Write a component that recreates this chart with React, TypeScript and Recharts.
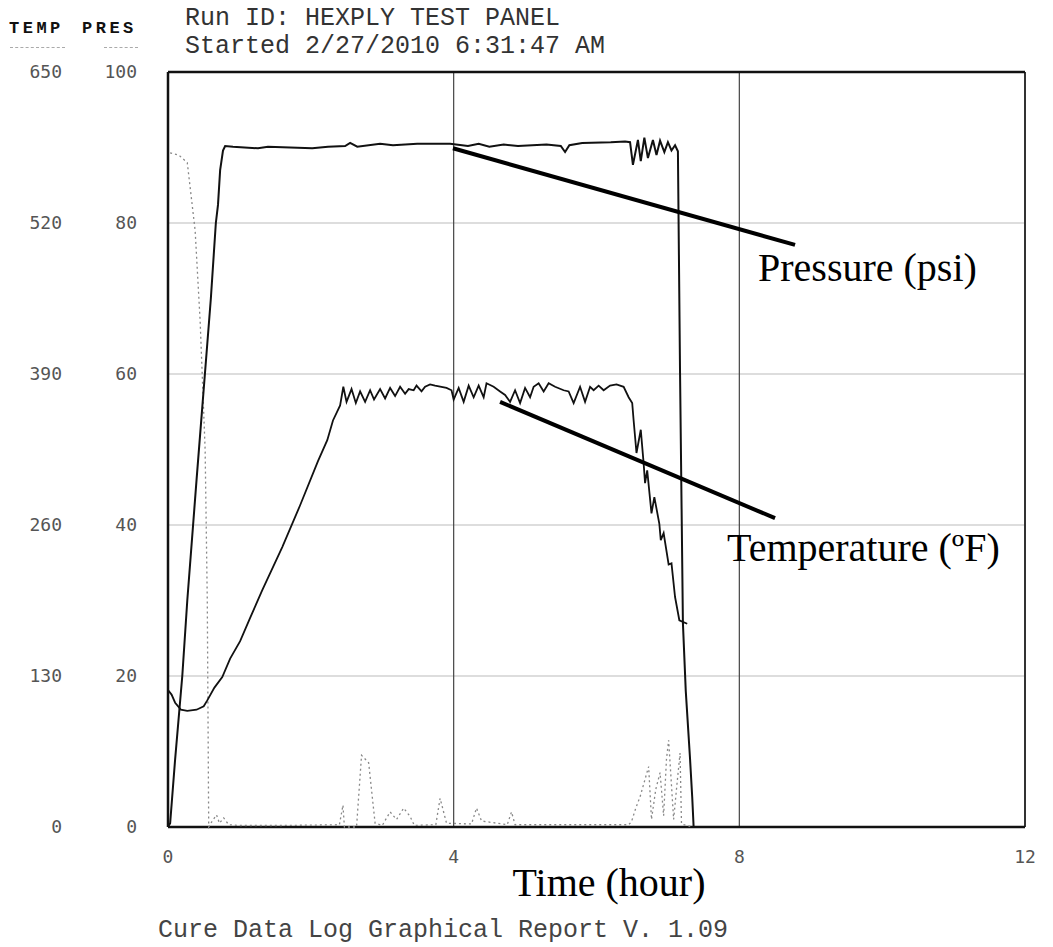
import { ComposedChart, Line, XAxis, YAxis, CartesianGrid, ReferenceLine } from 'recharts'

// time in hours
const pressureHours = [
  0, 0.03, 0.1, 0.2, 0.27, 0.4, 0.5, 0.6, 0.67, 0.7, 0.73, 0.77, 0.8, 0.91, 1.26, 1.4, 2.02, 2.24, 2.48, 2.55,
  2.65, 2.97, 3.15, 3.49, 3.95, 4.2, 4.35, 4.5, 4.7, 4.9, 5.3, 5.5, 5.56, 5.62, 5.8, 6.2, 6.4, 6.47, 6.51, 6.58,
  6.62, 6.67, 6.72, 6.79, 6.84, 6.89, 6.95, 7.0, 7.05, 7.1, 7.14, 7.17, 7.21, 7.25, 7.31, 7.34, 7.36,
]
const pressurePsi = [
  0, 0.5, 9, 20, 30, 46, 58, 70, 80, 82.4, 87, 89.6, 90.2, 90.1, 89.9, 90.1, 89.9, 90.1, 90.2, 90.6,
  90.1, 90.5, 90.3, 90.5, 90.5, 90.2, 90.5, 90.1, 90.4, 90.2, 90.4, 90.2, 89.4, 90.3, 90.6, 90.7, 90.8, 90.7, 87.7, 91,
  88.2, 91.3, 88.6, 91, 89, 90.9, 89.4, 90.7, 89.6, 90.3, 89.5, 60, 27, 18, 9, 4, 0,
]

const tempHours = [
  0, 0.05, 0.1, 0.18, 0.27, 0.4, 0.5, 0.55, 0.65, 0.76, 0.87, 1.01, 1.15, 1.32, 1.6, 1.85, 2.1, 2.23, 2.31, 2.41,
  2.455, 2.5, 2.57, 2.63, 2.69, 2.76, 2.83, 2.885, 2.97, 3.04, 3.11, 3.18, 3.25, 3.32, 3.37, 3.44, 3.48, 3.55, 3.6, 3.67,
  3.74, 3.9, 3.97, 4.0, 4.07, 4.14, 4.21, 4.28, 4.35, 4.42, 4.46, 4.56, 4.65, 4.72, 4.79, 4.86, 4.93, 5.0, 5.07, 5.12,
  5.19, 5.26, 5.33, 5.42, 5.54, 5.61, 5.68, 5.77, 5.84, 5.91, 5.96, 6.03, 6.1, 6.19, 6.28, 6.38, 6.45, 6.5, 6.52, 6.56,
  6.62, 6.66, 6.68, 6.71, 6.77, 6.81, 6.88, 6.9, 6.94, 7.01, 7.05, 7.1, 7.16, 7.27,
]
const tempF = [
  118, 114, 107, 101, 100, 101, 104, 109, 120, 129, 145, 160, 180, 204, 241, 277, 315, 333, 350, 363,
  379, 366, 377, 365, 375, 366, 376, 368, 377, 369, 378, 371, 379, 373, 377, 376, 380, 375, 379, 381,
  380, 378, 376, 368, 378, 366, 380, 370, 380, 370, 382, 379, 375, 372, 366, 376, 365, 378, 370, 379,
  382, 375, 382, 379, 376, 375, 365, 379, 366, 379, 376, 380, 376, 380, 381, 379, 370, 365, 350, 322,
  342, 313, 296, 307, 270, 284, 261, 247, 253, 226, 227, 198, 178, 175,
]

const vacuumHours = [
  0.03, 0.15, 0.27, 0.38, 0.45, 0.52, 0.55, 0.57, 0.62, 0.68, 0.72, 0.78, 0.85, 1.0, 1.6, 2.4, 2.45, 2.47, 2.64, 2.71,
  2.76, 2.81, 2.86, 2.9, 3.0, 3.11, 3.2, 3.3, 3.39, 3.45, 3.75, 3.81, 3.9, 4.25, 4.32, 4.39, 4.75, 4.81, 4.86, 6.45,
  6.49, 6.55, 6.61, 6.67, 6.73, 6.77, 6.83, 6.89, 6.94, 6.98, 7.01, 7.08, 7.13, 7.17, 7.19, 7.35,
]
const vacuumLevel = [
  89.3, 89, 88, 79, 67, 50, 30, 0, 0.8, 1.6, 0.5, 1.2, 0.3, 0.2, 0.2, 0.3, 2.9, 0, 0, 9.5,
  9, 8.5, 4, 0.5, 0.2, 2, 1, 2.5, 1.4, 0.2, 0.3, 3.8, 0.5, 0.4, 2.5, 0.8, 0.3, 2, 0.3, 0.3,
  0.7, 2.5, 4, 6, 8, 1, 5, 7.2, 1.5, 9, 11.5, 1, 6, 9.8, 0.4, 0,
]

const hourTicks = [0, 4, 8, 12]
const presTicks = [0, 20, 40, 60, 80, 100]
const tempTicks = [0, 130, 260, 390, 520, 650]

const pressureData = pressureHours.map((h, i) => ({ h, v: pressurePsi[i] }))
const tempData = tempHours.map((h, i) => ({ h, v: tempF[i] }))
const vacuumData = vacuumHours.map((h, i) => ({ h, v: vacuumLevel[i] }))

const mono = '"Liberation Mono", "DejaVu Sans Mono", monospace'
const tickMono = '"DejaVu Sans Mono", monospace'
const serif = '"Liberation Serif", "Times New Roman", serif'

const tickStyle = { fill: '#555', fontFamily: tickMono, fontSize: 18 }

export default function App() {
  return (
    <div style={{ position: 'absolute', left: 0, top: 0, width: 1053, height: 947, background: '#fff' }}>
      <ComposedChart
        width={1053}
        height={947}
        margin={{ top: 72, right: 28, bottom: 90, left: 0 }}
      >
        <CartesianGrid yAxisId="pres" vertical={false} stroke="#bbb" strokeWidth={1} />
        <CartesianGrid yAxisId="pres" horizontal={false} stroke="#444" strokeWidth={1.2} />
        <XAxis
          dataKey="h"
          type="number"
          domain={[0, 12]}
          ticks={hourTicks}
          height={30}
          axisLine={false}
          tickLine={false}
          tickSize={0}
          tickMargin={23}
          tick={tickStyle}
        />
        <YAxis
          yAxisId="pres"
          orientation="left"
          width={84}
          domain={[0, 100]}
          ticks={presTicks}
          axisLine={false}
          tickLine={false}
          tickSize={0}
          tickMargin={31}
          tick={tickStyle}
        />
        <YAxis
          yAxisId="temp"
          orientation="left"
          width={84}
          domain={[0, 650]}
          ticks={tempTicks}
          axisLine={false}
          tickLine={false}
          tickSize={0}
          tickMargin={22}
          tick={tickStyle}
        />
        <ReferenceLine yAxisId="pres" x={0} stroke="#111" strokeWidth={2.5} />
        <ReferenceLine yAxisId="pres" x={12} stroke="#333" strokeWidth={2} />
        <ReferenceLine yAxisId="pres" y={0} stroke="#111" strokeWidth={2.5} />
        <ReferenceLine yAxisId="pres" y={100} stroke="#111" strokeWidth={2.5} />
        <Line
          data={vacuumData}
          yAxisId="pres"
          dataKey="v"
          type="linear"
          stroke="#888"
          strokeWidth={1.3}
          strokeDasharray="2 3"
          dot={false}
          isAnimationActive={false}
        />
        <Line
          data={tempData}
          yAxisId="temp"
          dataKey="v"
          type="linear"
          stroke="#111"
          strokeWidth={1.8}
          dot={false}
          isAnimationActive={false}
        />
        <Line
          data={pressureData}
          yAxisId="pres"
          dataKey="v"
          type="linear"
          stroke="#111"
          strokeWidth={2}
          dot={false}
          isAnimationActive={false}
        />
        <ReferenceLine
          yAxisId="pres"
          segment={[{ x: 3.99, y: 89.9 }, { x: 8.78, y: 77.1 }]}
          stroke="#000"
          strokeWidth={4}
        />
        <ReferenceLine
          yAxisId="pres"
          segment={[{ x: 4.65, y: 56.3 }, { x: 8.5, y: 40.9 }]}
          stroke="#000"
          strokeWidth={4}
        />
      </ComposedChart>

      <div style={{ position: 'absolute', left: 9, top: 20, fontFamily: mono, fontWeight: 'bold', fontSize: 17, letterSpacing: 3.5, lineHeight: 1, color: '#111' }}>TEMP</div>
      <div style={{ position: 'absolute', left: 82, top: 20, fontFamily: mono, fontWeight: 'bold', fontSize: 17, letterSpacing: 3.5, lineHeight: 1, color: '#111' }}>PRES</div>
      <div style={{ position: 'absolute', left: 10, top: 47, width: 55, borderTop: '1px dashed #aaa' }} />
      <div style={{ position: 'absolute', left: 104, top: 47, width: 34, borderTop: '1px dashed #aaa' }} />
      <div style={{ position: 'absolute', left: 185, top: 6, fontFamily: mono, fontSize: 25, lineHeight: 1, color: '#333', whiteSpace: 'pre' }}>Run ID: HEXPLY TEST PANEL</div>
      <div style={{ position: 'absolute', left: 185, top: 34, fontFamily: mono, fontSize: 25, lineHeight: 1, color: '#333', whiteSpace: 'pre' }}>Started 2/27/2010 6:31:47 AM</div>

      <div style={{ position: 'absolute', left: 758, top: 248, fontFamily: serif, fontSize: 40, lineHeight: 1, color: '#000', whiteSpace: 'pre' }}>Pressure (psi)</div>
      <div style={{ position: 'absolute', left: 727, top: 528, fontFamily: serif, fontSize: 40, lineHeight: 1, color: '#000', whiteSpace: 'pre' }}>Temperature (ºF)</div>
      <div style={{ position: 'absolute', left: 609, top: 863, transform: 'translateX(-50%)', fontFamily: serif, fontSize: 40, lineHeight: 1, color: '#000', whiteSpace: 'pre' }}>Time (hour)</div>

      <div style={{ position: 'absolute', left: 158, top: 918, fontFamily: mono, fontSize: 25, lineHeight: 1, color: '#444', whiteSpace: 'pre' }}>Cure Data Log Graphical Report V. 1.09</div>
    </div>
  )
}
